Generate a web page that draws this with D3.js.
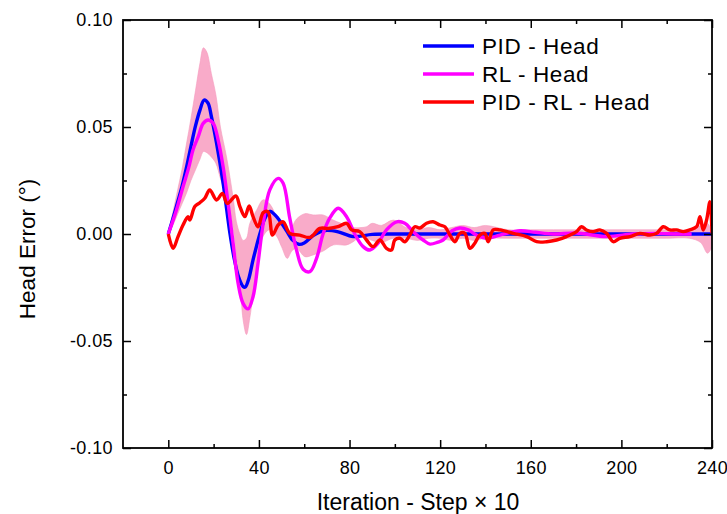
<!DOCTYPE html>
<html>
<head>
<meta charset="utf-8">
<script src="https://cdn.jsdelivr.net/npm/d3@7"></script>
<style>
  body { margin: 0; background: #fff; }
  text { font-family: Arial, "Liberation Sans", sans-serif; fill: #000; }
</style>
</head>
<body>
<div id="chart"></div>
<script>
// PID - Head
const pidX = [0, 2, 4, 6, 8, 10, 12, 14, 15.8, 17.5, 19, 21.3, 24.2, 27.2, 29, 31, 33, 34, 35.5, 37.4, 40.4, 42.5, 44.8, 47, 50, 52.2, 55, 57.6, 60, 63.9, 67, 70, 75, 81.6, 90, 100, 140, 180, 240];
const pidY = [0, 0.007, 0.0145, 0.022, 0.031, 0.041, 0.0505, 0.058, 0.0626, 0.0612, 0.055, 0.0424, 0.0237, 0.0003, -0.011, -0.02, -0.0245, -0.0248, -0.021, -0.0121, 0, 0.007, 0.0106, 0.009, 0.005, 0.0015, -0.003, -0.0048, -0.0042, -0.0008, 0.001, 0.0017, 0.001, -0.0012, -0.0002, 0, 0, 0, 0];

// RL - Head
const rlX = [0, 3.6, 6.5, 9, 10.9, 13.2, 15.4, 17.6, 19.8, 22, 24.2, 26.4, 28.6, 30.8, 33, 35.2, 37.4, 39.6, 41.9, 44.8, 48.5, 50.7, 53.6, 56.6, 59.5, 62.5, 65.4, 68.3, 71.3, 75, 78.7, 82.3, 86, 89, 92.6, 96.3, 100.8, 104.4, 108.1, 112.5, 115.5, 119, 121.3, 125.3, 128.7, 132.4, 136.1, 140.5, 146.4, 155.2, 162, 170, 180, 193.5, 205, 215, 225, 231];
const rlY = [0, 0.0112, 0.0221, 0.031, 0.0393, 0.0455, 0.0517, 0.0533, 0.0517, 0.0439, 0.0314, 0.0143, -0.0043, -0.023, -0.0324, -0.035, -0.0293, -0.0137, 0.005, 0.0206, 0.026, 0.0237, 0.0075, -0.0075, -0.0165, -0.0176, -0.0115, 0, 0.0075, 0.012, 0.0081, 0, -0.0059, -0.0075, -0.0043, 0.0019, 0.0057, 0.005, 0.0011, -0.0028, -0.0047, -0.0038, -0.0028, 0.0015, 0.0028, 0.0019, -0.0005, -0.002, -0.0005, 0.0015, 0.0008, 0, 0.0005, -0.0012, 0, 0.0003, 0, 0];

// PID - RL - Head
const mixX = [0, 2.1, 4.3, 6.5, 8.7, 9.5, 11.7, 13.9, 16.1, 18.3, 21.3, 23.9, 26, 29.8, 31.6, 33.8, 35.7, 37.4, 39.6, 41.9, 44, 46, 48.5, 50.7, 53.6, 58, 62.5, 66.9, 70.6, 74.9, 78.7, 80.9, 84.5, 87.5, 90.4, 93.4, 96.3, 98.5, 100, 102.2, 104.4, 106.6, 108.8, 111, 114, 116.9, 119.9, 122.1, 124.3, 126.5, 128.7, 130.9, 133.1, 135.3, 137.5, 139.7, 141.2, 143.4, 146.4, 152.2, 158.2, 162.6, 167, 171.4, 175.8, 180.2, 182.4, 184.6, 187.5, 190.5, 193.5, 196.4, 199.3, 203.8, 208.2, 212.6, 215.5, 218.5, 221.4, 224.4, 227.3, 230.2, 233.2, 234.7, 236.1, 237.6, 239.1, 240];
const mixY = [0, -0.0067, -0.0012, 0.0042, 0.0081, 0.0065, 0.0128, 0.0146, 0.0167, 0.0206, 0.0159, 0.019, 0.0143, 0.0178, 0.0128, 0.0081, 0.0131, 0.0081, 0.0034, 0.01, 0.0104, -0.0005, 0.0042, 0.0057, 0.0003, -0.0005, -0.0016, 0.0026, 0.0026, 0.0034, 0.005, 0.0019, 0.0011, -0.0028, -0.0059, -0.0028, -0.0067, -0.0075, -0.0028, -0.002, -0.0036, -0.0005, 0.0034, 0.0028, 0.005, 0.0057, 0.0042, 0.0034, -0.0005, -0.0036, 0.0003, 0.0003, -0.0067, -0.0043, -0.0005, 0.0003, -0.0036, 0.0019, 0.0019, 0.0003, -0.0012, -0.0036, -0.0036, -0.0028, -0.0012, 0.0011, 0.0034, 0.0019, 0.0011, 0.0019, 0.0003, -0.0036, -0.002, -0.0012, 0.0003, -0.0005, 0.0003, 0.0034, 0.0019, 0.0019, 0.0011, 0.0019, 0.0034, 0.0081, 0.0019, 0.0065, 0.0151, 0.0003];

// shaded band
const bandX = [0, 2, 4, 6, 8, 10, 12, 14, 15.5, 17, 19, 21, 23, 25.7, 28.6, 30, 31.6, 33, 34.5, 36, 38.9, 41.9, 44.8, 47.8, 50, 52.5, 54.5, 56.6, 60.3, 63.9, 68.3, 72.8, 78.7, 81.6, 85, 87.5, 90, 94, 99.3, 105, 110, 115, 120, 125, 130, 135, 140, 150, 160, 170, 180, 190, 200, 210, 220, 230, 235, 238, 239.5, 240];
const bandHi = [0, 0.01, 0.02, 0.03, 0.042, 0.054, 0.067, 0.08, 0.087, 0.085, 0.075, 0.065, 0.05, 0.036, 0.017, 0.006, 0, -0.003, -0.002, 0.005, 0.011, 0.016, 0.014, 0.008, 0.004, 0, 0.003, 0.007, 0.0095, 0.0089, 0.0089, 0.0065, 0.004, 0.003, 0.003, 0.0034, 0.005, 0.004, 0.0065, 0.003, 0.002, 0.003, 0.002, 0.003, 0.004, 0.003, 0.004, 0.002, 0.002, 0.002, 0.002, 0.002, 0.002, 0.002, 0.002, 0.002, 0.004, 0.005, 0.002, 0];
const bandLo = [0, 0.004, 0.009, 0.014, 0.019, 0.025, 0.03, 0.035, 0.0385, 0.038, 0.036, 0.033, 0.026, 0.017, 0.003, -0.01, -0.022, -0.04, -0.047, -0.039, -0.017, -0.001, 0.002, -0.001, -0.006, -0.0114, -0.008, -0.0067, -0.0106, -0.0098, -0.008, -0.0051, -0.0051, -0.0036, -0.001, -0.002, -0.003, -0.004, -0.002, -0.002, -0.003, -0.002, -0.002, -0.003, -0.002, -0.003, -0.002, -0.002, -0.002, -0.002, -0.002, -0.002, -0.002, -0.002, -0.002, -0.002, -0.004, -0.009, -0.007, -0.004];

const xMajor = [0, 40, 80, 120, 160, 200, 240];
const xMinor = [20, 60, 100, 140, 180, 220];
const yMajor = [-0.1, -0.05, 0, 0.05, 0.1];
const yMinor = [-0.075, -0.025, 0.025, 0.075];

const seriesNames = ['PID - Head', 'RL - Head', 'PID - RL - Head'];
const seriesColors = ['#0000ff', '#ff00ff', '#ff0000'];

const W = 727, H = 514;
const margin = { top: 20, right: 15, bottom: 66, left: 123 };
const width = W - margin.left - margin.right;
const height = H - margin.top - margin.bottom;

const svg = d3.select('#chart').append('svg')
    .attr('width', W)
    .attr('height', H)
  .append('g')
    .attr('transform', `translate(${margin.left},${margin.top})`);

const x = d3.scaleLinear().domain([-20, 240]).range([0, width]);
const y = d3.scaleLinear().domain([-0.1, 0.1]).range([height, 0]);

const toPts = (xs, ys) => xs.map((v, i) => [v, ys[i]]);

svg.append('clipPath').attr('id', 'plotclip')
  .append('rect').attr('width', width).attr('height', height);

const plot = svg.append('g').attr('clip-path', 'url(#plotclip)');

const area = d3.area()
  .x((d, i) => x(bandX[i]))
  .y0((d, i) => y(bandLo[i]))
  .y1((d, i) => y(bandHi[i]))
  .curve(d3.curveCatmullRom);

plot.append('path')
  .datum(bandX)
  .attr('d', area)
  .attr('fill', '#f9abc9')
  .attr('stroke', '#f59bbd')
  .attr('stroke-width', 0.6);

const line = d3.line()
  .x(d => x(d[0]))
  .y(d => y(d[1]))
  .curve(d3.curveCatmullRom);

const series = [toPts(pidX, pidY), toPts(rlX, rlY), toPts(mixX, mixY)];

series.forEach((pts, i) => {
  plot.append('path')
    .datum(pts)
    .attr('d', line)
    .attr('fill', 'none')
    .attr('stroke', seriesColors[i])
    .attr('stroke-width', 3.4)
    .attr('stroke-linejoin', 'round');
});

// axes, ticks pointing inward
function styleAxis(g) {
  g.select('.domain').remove();
  g.selectAll('line').attr('stroke', '#000').attr('stroke-width', 1.5);
  g.selectAll('text').style('font-size', '18px').style('letter-spacing', '0.4px');
}

svg.append('g')
  .attr('transform', `translate(0,${height})`)
  .call(d3.axisBottom(x).tickValues(xMajor).tickSize(-8).tickPadding(13).tickFormat(d3.format('d')))
  .call(styleAxis);
svg.append('g')
  .attr('transform', `translate(0,${height})`)
  .call(d3.axisBottom(x).tickValues(xMinor).tickSize(-4).tickFormat(''))
  .call(styleAxis);
svg.append('g')
  .call(d3.axisTop(x).tickValues(xMajor).tickSize(-8).tickFormat(''))
  .call(styleAxis);
svg.append('g')
  .call(d3.axisTop(x).tickValues(xMinor).tickSize(-4).tickFormat(''))
  .call(styleAxis);

svg.append('g')
  .call(d3.axisLeft(y).tickValues(yMajor).tickSize(-8).tickPadding(10).tickFormat(d3.format('.2f')))
  .call(styleAxis)
  .selectAll('text').text(d => d3.format('.2f')(d).replace('−', '-'));
svg.append('g')
  .call(d3.axisLeft(y).tickValues(yMinor).tickSize(-4).tickFormat(''))
  .call(styleAxis);
svg.append('g')
  .attr('transform', `translate(${width},0)`)
  .call(d3.axisRight(y).tickValues(yMajor).tickSize(-8).tickFormat(''))
  .call(styleAxis);
svg.append('g')
  .attr('transform', `translate(${width},0)`)
  .call(d3.axisRight(y).tickValues(yMinor).tickSize(-4).tickFormat(''))
  .call(styleAxis);

svg.append('rect')
  .attr('width', width)
  .attr('height', height)
  .attr('fill', 'none')
  .attr('stroke', '#000')
  .attr('stroke-width', 1.8);

// axis titles
svg.append('text')
  .attr('x', 418 - margin.left)
  .attr('y', height + 62)
  .attr('text-anchor', 'middle')
  .style('font-size', '23px')
  .text('Iteration - Step × 10');

svg.append('text')
  .attr('transform', 'rotate(-90)')
  .attr('x', -(249 - margin.top))
  .attr('y', 35 - margin.left)
  .attr('text-anchor', 'middle')
  .style('font-size', '22.5px')
  .text('Head Error (°)');

// legend
const legend = svg.append('g')
  .attr('transform', `translate(${423 - margin.left},${46 - margin.top})`);

seriesNames.forEach((name, i) => {
  const row = legend.append('g').attr('transform', `translate(0,${i * 28})`);
  row.append('line')
    .attr('x1', 0).attr('x2', 51)
    .attr('stroke', seriesColors[i])
    .attr('stroke-width', 3.4);
  row.append('text')
    .attr('x', 59)
    .attr('y', 8)
    .style('font-size', '22.5px')
    .style('letter-spacing', '0.6px')
    .text(name);
});
</script>
</body>
</html>
